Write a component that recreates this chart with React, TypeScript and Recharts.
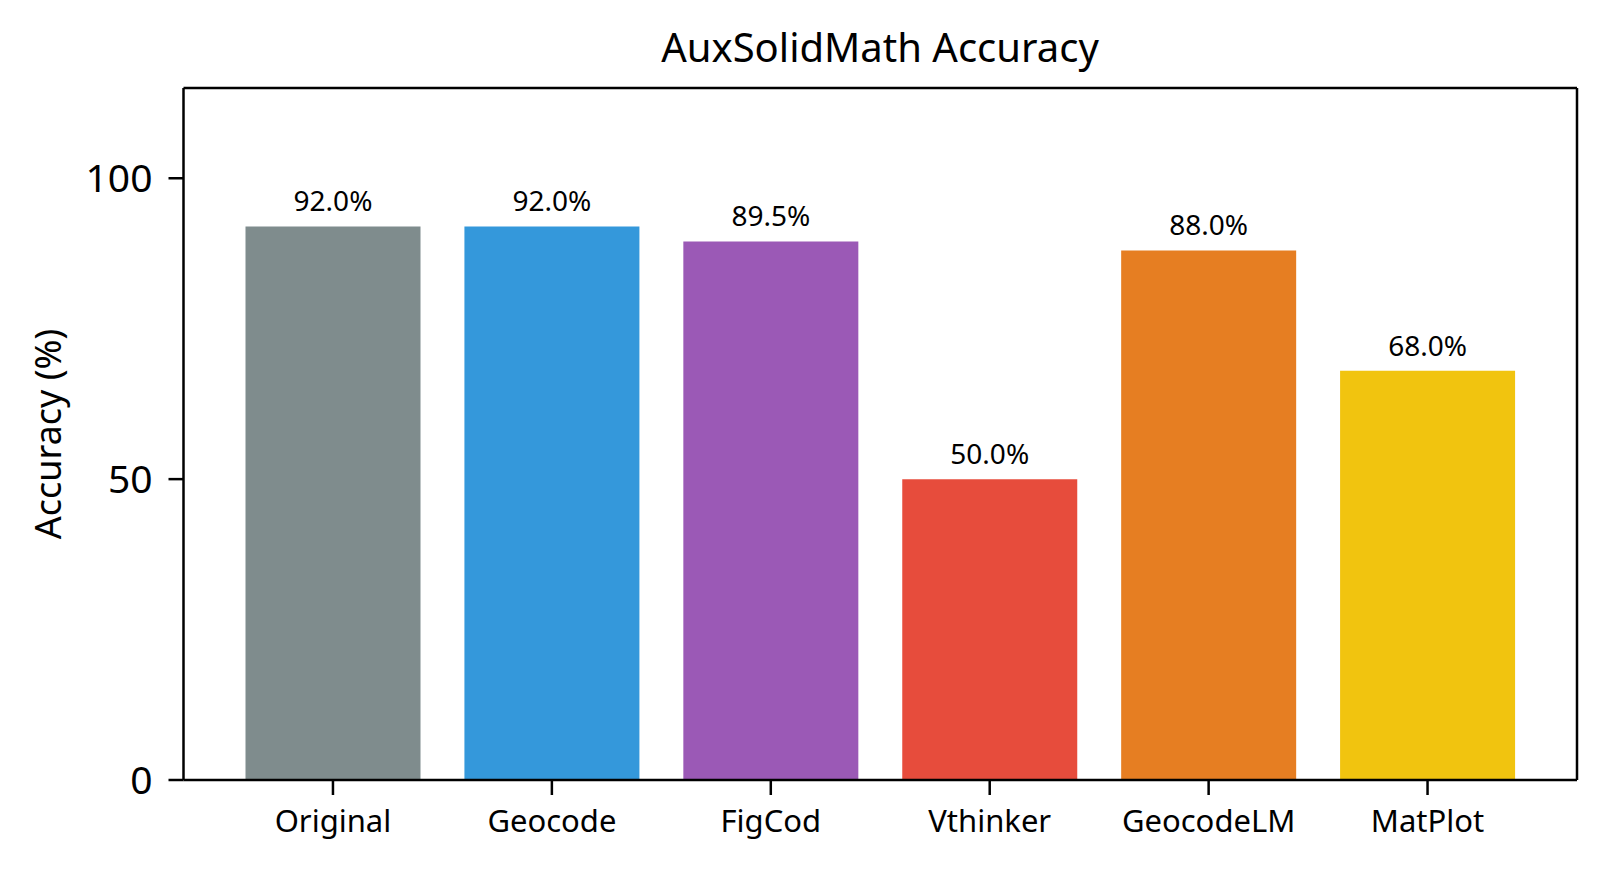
import React from "react";
import { BarChart, Bar, XAxis, YAxis, Cell, LabelList } from "recharts";

const categories = ["Original", "Geocode", "FigCod", "Vthinker", "GeocodeLM", "MatPlot"];
const accuracy = [92.0, 92.0, 89.5, 50.0, 88.0, 68.0];
const barColors = ["#7f8c8d", "#3498db", "#9b59b6", "#e74c3c", "#e67e22", "#f1c40f"];
const yTicks = [0, 50, 100];
const title = "AuxSolidMath Accuracy";
const yLabel = "Accuracy (%)";

const data = categories.map((name, i) => ({ name, value: accuracy[i] }));

const FONT = "'Noto Sans', sans-serif";
const W = 1607;
const H = 872;

const YLabel = (props: any) => {
  const vb = props.viewBox || {};
  const cy = (vb.y || 0) + (vb.height || 0) / 2;
  const cx = 47;
  return (
    <text
      x={cx}
      y={cy}
      transform={`rotate(-90, ${cx}, ${cy})`}
      textAnchor="middle"
      dominantBaseline="central"
      fontFamily={FONT}
      fontSize={36}
      fill="#000"
    >
      {yLabel}
    </text>
  );
};

export default function App() {
  return (
    <div style={{ position: "absolute", left: 0, top: 0, width: W, height: H, background: "#fff" }}>
      <BarChart
        width={W}
        height={H}
        data={data}
        margin={{ top: 87, right: 29, left: 0, bottom: 0 }}
        barCategoryGap={22}
      >
        <XAxis
          dataKey="name"
          height={92}
          padding={{ left: 40, right: 40 }}
          axisLine={{ stroke: "#000", strokeWidth: 2.5 }}
          tickLine={{ stroke: "#000", strokeWidth: 2.5 }}
          tickSize={15}
          tickMargin={15}
          tick={{ fill: "#000", fontSize: 31, fontFamily: FONT }}
          interval={0}
        />
        <XAxis
          xAxisId="top"
          dataKey="name"
          orientation="top"
          height={1}
          tick={false}
          tickLine={false}
          axisLine={{ stroke: "#000", strokeWidth: 2.5 }}
        />
        <YAxis
          width={183.5}
          domain={[0, 115]}
          ticks={yTicks}
          allowDataOverflow
          axisLine={{ stroke: "#000", strokeWidth: 2.5 }}
          tickLine={{ stroke: "#000", strokeWidth: 2.5 }}
          tickSize={15}
          tickMargin={16}
          tick={{ fill: "#000", fontSize: 39, fontFamily: FONT }}
          label={<YLabel />}
        />
        <YAxis
          yAxisId="right"
          orientation="right"
          width={1}
          domain={[0, 115]}
          tick={false}
          tickLine={false}
          axisLine={{ stroke: "#000", strokeWidth: 2.5 }}
        />
        <Bar dataKey="value" isAnimationActive={false}>
          {data.map((d, i) => (
            <Cell key={d.name} fill={barColors[i]} />
          ))}
          <LabelList
            dataKey="value"
            position="top"
            offset={15}
            formatter={(v: any) => `${Number(v).toFixed(1)}%`}
            style={{ fill: "#000", fontSize: 28, fontFamily: FONT }}
          />
        </Bar>
      </BarChart>
      <svg
        width={W}
        height={H}
        style={{ position: "absolute", left: 0, top: 0, pointerEvents: "none" }}
      >
        <text x={880} y={62} textAnchor="middle" fontFamily={FONT} fontSize={40} fill="#000">
          {title}
        </text>
      </svg>
    </div>
  );
}
